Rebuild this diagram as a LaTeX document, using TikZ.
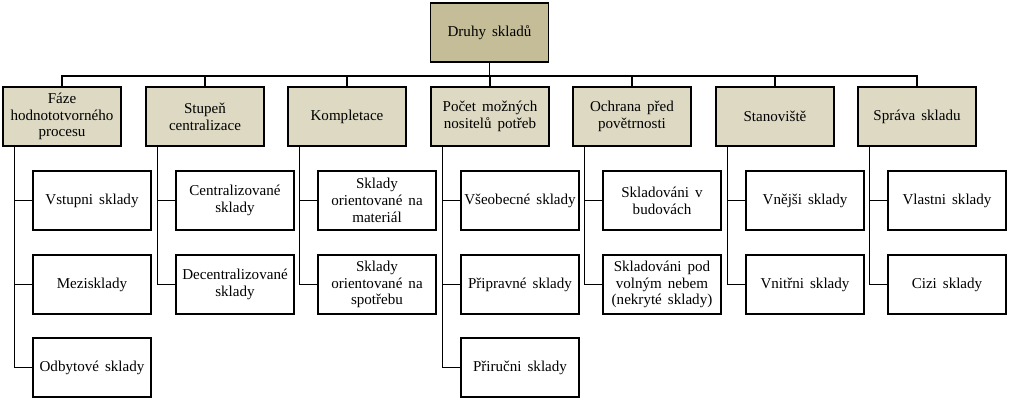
\documentclass[tikz,border=0pt]{standalone}
\usepackage{fontspec}
\setmainfont[WordSpace=1.6]{Liberation Serif}
\usepackage{tikz}
\usepackage{color}
\definecolor{rootfill}{RGB}{196,189,151}
\definecolor{catfill}{RGB}{221,217,195}
\tikzset{
  rootbox/.style={draw,line width=1.1pt,fill=rootfill,rectangle,align=center,
    minimum width=88.5pt,minimum height=44.5pt,inner sep=1pt},
  catbox/.style={draw,line width=1.1pt,fill=catfill,rectangle,align=center,
    minimum width=88.5pt,minimum height=44.5pt,inner sep=1pt},
  leafbox/.style={draw,line width=1.1pt,fill=white,rectangle,align=center,
    minimum width=88.5pt,minimum height=44.5pt,inner sep=1pt}
}
\newcommand{\tikzLeafNode}[4]{
  \node[leafbox] (#1) at (#2) {#3};
  \path[draw,-] ([xshift=9pt]#4.south west) |- (#1.west);
}
\begin{document}
\begin{tikzpicture}[x=0.75pt, y=-0.75pt, line width=0.9pt,
    font=\fontsize{11.3}{12.6}\selectfont]
  \useasboundingbox (0,0) rectangle (1011,407);

  \node [rootbox] (root) at (489.5, 32.5) {Druhy skladů};

  \node [catbox] (c1) at ( 62, 116.5) {Fáze\\hodnototvorného\\procesu};
  \node [catbox] (c2) at (205, 116.5) {Stupeň\\centralizace};
  \node [catbox] (c3) at (347, 116.5) {Kompletace};
  \node [catbox] (c4) at (490, 116.5) {Počet možných\\nositelů potřeb};
  \node [catbox] (c5) at (632, 116.5) {Ochrana před\\povětrnosti};
  \node [catbox] (c6) at (775, 116.5) {Stanoviště};
  \node [catbox] (c7) at (917, 116.5) {Správa skladu};
  \foreach \c in {c1,c2,c3,c4,c5,c6,c7}
    \path[draw] (root.south) -- ++(0,13) -| (\c.north);

  \tikzLeafNode{l11}{ 92,200.5}{Vstupni sklady}{c1}
  \tikzLeafNode{l12}{ 92,284.5}{Mezisklady}{c1}
  \tikzLeafNode{l13}{ 92,367.5}{Odbytové sklady}{c1}

  \tikzLeafNode{l21}{235,200.5}{Centralizované\\sklady}{c2}
  \tikzLeafNode{l22}{235,284.5}{Decentralizované\\sklady}{c2}

  \tikzLeafNode{l31}{377,200.5}{Sklady\\orientované na\\materiál}{c3}
  \tikzLeafNode{l32}{377,284.5}{Sklady\\orientované na\\spotřebu}{c3}

  \tikzLeafNode{l41}{520,200.5}{Všeobecné sklady}{c4}
  \tikzLeafNode{l42}{520,284.5}{Připravné sklady}{c4}
  \tikzLeafNode{l43}{520,367.5}{Přiručni sklady}{c4}

  \tikzLeafNode{l51}{662,200.5}{Skladováni v\\budovách}{c5}
  \tikzLeafNode{l52}{662,284.5}{Skladováni pod\\volným nebem\\(nekryté sklady)}{c5}

  \tikzLeafNode{l61}{805,200.5}{Vnějši sklady}{c6}
  \tikzLeafNode{l62}{805,284.5}{Vnitřni sklady}{c6}

  \tikzLeafNode{l71}{947,200.5}{Vlastni sklady}{c7}
  \tikzLeafNode{l72}{947,284.5}{Cizi sklady}{c7}
\end{tikzpicture}
\end{document}
